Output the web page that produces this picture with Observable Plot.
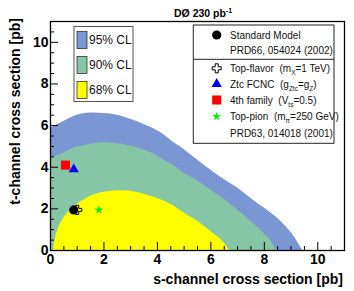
<!DOCTYPE html>
<html><head><meta charset="utf-8">
<script src="https://cdn.jsdelivr.net/npm/d3@7"></script>
<script src="https://cdn.jsdelivr.net/npm/@observablehq/plot@0.6"></script>
<style>
body{margin:0;background:#fff;}
#chart svg{display:block;}
</style></head><body><div id="chart"></div>
<script>
// Contour boundaries (s-channel, t-channel) in pb
const blueX  = [0, 0.5, 1.0, 1.5, 2.0, 2.5, 3.0, 3.5, 3.8, 4.2, 4.5, 5.0, 5.75, 6.4, 7.0, 7.6, 8.25, 8.7, 9.1, 9.43];
const blueY  = [5.88, 6.2, 6.5, 6.6, 6.58, 6.5, 6.3, 6.05, 5.88, 5.6, 5.3, 4.85, 4.1, 3.5, 3.0, 2.4, 1.8, 1.3, 0.7, 0];
const greenX = [0, 0.37, 0.87, 1.5, 2.0, 2.5, 3.06, 3.5, 3.81, 4.3, 4.7, 5.0, 5.5, 6.0, 6.5, 7.0, 7.5, 8.0, 8.25, 8.45];
const greenY = [4.44, 4.6, 4.91, 5.1, 5.17, 5.13, 5.0, 4.82, 4.67, 4.3, 4.0, 3.7, 3.35, 2.9, 2.45, 1.95, 1.4, 0.8, 0.45, 0];
const yellowX = [0.12, 0.19, 0.37, 0.62, 0.87, 1.25, 1.62, 2.12, 2.7, 3.3, 3.75, 4.2, 4.6, 5.0, 5.5, 6.0, 6.4, 6.7];
const yellowY = [0, 0.64, 1.29, 1.77, 2.09, 2.42, 2.66, 2.82, 2.87, 2.78, 2.6, 2.4, 2.15, 1.8, 1.4, 0.9, 0.5, 0];

const clLabels = ["95% CL", "90% CL", "68% CL"];
const clColors = ["#7b97d3", "#86c5a5", "#ffff00"];

// Model predictions
const modelNames  = ["Top-flavor", "Standard Model", "Ztc FCNC", "4th family", "Top-pion"];
const modelX      = [1.0, 0.87, 0.87, 0.56, 1.81];
const modelY      = [1.95, 1.95, 3.9, 4.1, 1.95];
const modelSymbol = ["cross", "circle", "triangle", "square", "star"];
const modelFill   = ["none", "black", "#0000ee", "#ff0000", "#00ee00"];
const modelStroke = ["black", "none", "none", "none", "none"];
const modelR      = [3.8, 4.6, 3.8, 5.1, 2.8];

const xTicks = [0, 2, 4, 6, 8, 10];
const yTicks = [0, 2, 4, 6, 8, 10];
const minorTicks = [0.5, 1, 1.5, 2.5, 3, 3.5, 4.5, 5, 5.5, 6.5, 7, 7.5, 8.5, 9, 9.5, 10.5];

const pts = (xs, ys) => xs.map((x, i) => ({x, y: ys[i]}));
const models = modelNames.map((n, i) => ({name: n, x: modelX[i], y: modelY[i], symbol: modelSymbol[i], fill: modelFill[i], stroke: modelStroke[i], r: modelR[i]}));

const chart = Plot.plot({
  width: 354, height: 291,
  marginLeft: 50, marginRight: 10, marginTop: 21, marginBottom: 41,
  x: {domain: [0, 11]}, y: {domain: [0, 11]},
  style: {fontFamily: "'Liberation Sans', Arial, sans-serif", background: "white"},
  marks: [
    Plot.areaY(pts(blueX, blueY), {x: "x", y: "y", fill: clColors[0], curve: "catmull-rom"}),
    Plot.areaY(pts(greenX, greenY), {x: "x", y: "y", fill: clColors[1], curve: "catmull-rom"}),
    Plot.areaY(pts(yellowX, yellowY), {x: "x", y: "y", fill: clColors[2], curve: "catmull-rom"}),
    ...models.map(m => Plot.dot([m], {x: "x", y: "y", symbol: () => m.symbol, fill: m.fill, stroke: m.stroke, strokeWidth: 1, r: m.r})),
    Plot.frame({stroke: "black", strokeWidth: 1.3}),
    Plot.axisX({ticks: xTicks, tickSize: -8, tickPadding: 12, label: null, tickFormat: d => String(d)}),
    Plot.axisX({ticks: minorTicks, tickSize: -4, tickPadding: 0, label: null, tickFormat: () => ""}),
    Plot.axisY({ticks: yTicks, tickSize: -8, tickPadding: 10, label: null, tickFormat: d => String(d)}),
    Plot.axisY({ticks: minorTicks, tickSize: -4, tickPadding: 0, label: null, tickFormat: () => ""})
  ]
});
document.getElementById("chart").appendChild(chart);

const svg = d3.select(chart);
svg.selectAll('g[aria-label="x-axis tick label"] text, g[aria-label="y-axis tick label"] text')
  .style("font-size", "14px").style("font-weight", "bold").attr("fill", "black");

const FONT = "'Liberation Sans', Arial, sans-serif";
// Axis titles
svg.append("text").attr("x", 343).attr("y", 284).attr("text-anchor", "end")
  .style("font", `bold 14px ${FONT}`).attr("fill", "black").text("s-channel cross section [pb]");
svg.append("text").attr("transform", "translate(20,18) rotate(-90)").attr("text-anchor", "end")
  .style("font", `bold 14px ${FONT}`).attr("fill", "black").text("t-channel cross section [pb]");
// Title
const title = svg.append("text").attr("x", 174).attr("y", 17).attr("text-anchor", "start")
  .style("font", `bold 10.5px ${FONT}`).attr("fill", "black");
title.append("tspan").text("DØ 230 pb");
title.append("tspan").attr("dy", -4).style("font-size", "7px").text("-1");

// Left legend (confidence levels)
const lg = svg.append("g").attr("text-anchor", "start");
lg.append("rect").attr("x", 74).attr("y", 26.5).attr("width", 59).attr("height", 75).attr("fill", "white").attr("stroke", "#555").attr("stroke-width", 1);
clLabels.forEach((lab, i) => {
  const cy = 40 + i * 25;
  lg.append("rect").attr("x", 77).attr("y", cy - 8.5).attr("width", 10).attr("height", 17).attr("fill", clColors[i]).attr("stroke", "#333").attr("stroke-width", 0.8);
  lg.append("text").attr("x", 89).attr("y", cy + 4.2).attr("text-anchor", "start")
    .style("font", `12px ${FONT}`).attr("fill", "#111").text(lab);
});

// Right legend (models)
const legendRows = [
  {sym: 1, parts: [["Standard Model", 0]], y: 35},
  {sym: -1, parts: [["PRD66, 054024 (2002)", 0]], y: 50.7},
  {sym: 0, parts: [["Top-flavor  (m", 0], ["X", 1], ["=1 TeV)", 0]], y: 68.3},
  {sym: 2, parts: [["Ztc FCNC  (g", 0], ["Ztc", 1], ["=g", 0], ["Z", 1], [")", 0]], y: 84},
  {sym: 3, parts: [["4th family  (V", 0], ["ts", 1], ["=0.5)", 0]], y: 100},
  {sym: 4, parts: [["Top-pion  (m", 0], ["π", 1], ["=250 GeV)", 0]], y: 116.5},
  {sym: -1, parts: [["PRD63, 014018 (2001)", 0]], y: 133.3}
];
const symMap = {circle: d3.symbolCircle, cross: d3.symbolCross, triangle: d3.symbolTriangle, square: d3.symbolSquare, star: d3.symbolStar};
const rg = svg.append("g").attr("text-anchor", "start");
rg.append("rect").attr("x", 193.3).attr("y", 25).attr("width", 140.7).attr("height", 118.3).attr("fill", "white").attr("stroke", "#222").attr("stroke-width", 1);
rg.append("line").attr("x1", 193.3).attr("x2", 334).attr("y1", 59.3).attr("y2", 59.3).attr("stroke", "#222").attr("stroke-width", 1);
legendRows.forEach(row => {
  if (row.sym >= 0) {
    const m = models[row.sym];
    rg.append("path").attr("transform", `translate(216.7,${row.y})`)
      .attr("d", d3.symbol(symMap[m.symbol], Math.PI * m.r * m.r)())
      .attr("fill", m.fill).attr("stroke", m.stroke).attr("stroke-width", 1);
  }
  const t = rg.append("text").attr("x", 230).attr("y", row.y + 3.5).attr("text-anchor", "start")
    .style("font", `10px ${FONT}`).style("white-space", "pre").attr("fill", "#111");
  let prevSub = false;
  row.parts.forEach(([s, sub]) => {
    if (sub) {
      t.append("tspan").attr("dy", prevSub ? 0 : 3).style("font-size", "6.5px").text(s);
    } else {
      t.append("tspan").attr("dy", prevSub ? -3 : 0).text(s);
    }
    prevSub = !!sub;
  });
});
</script></body></html>
